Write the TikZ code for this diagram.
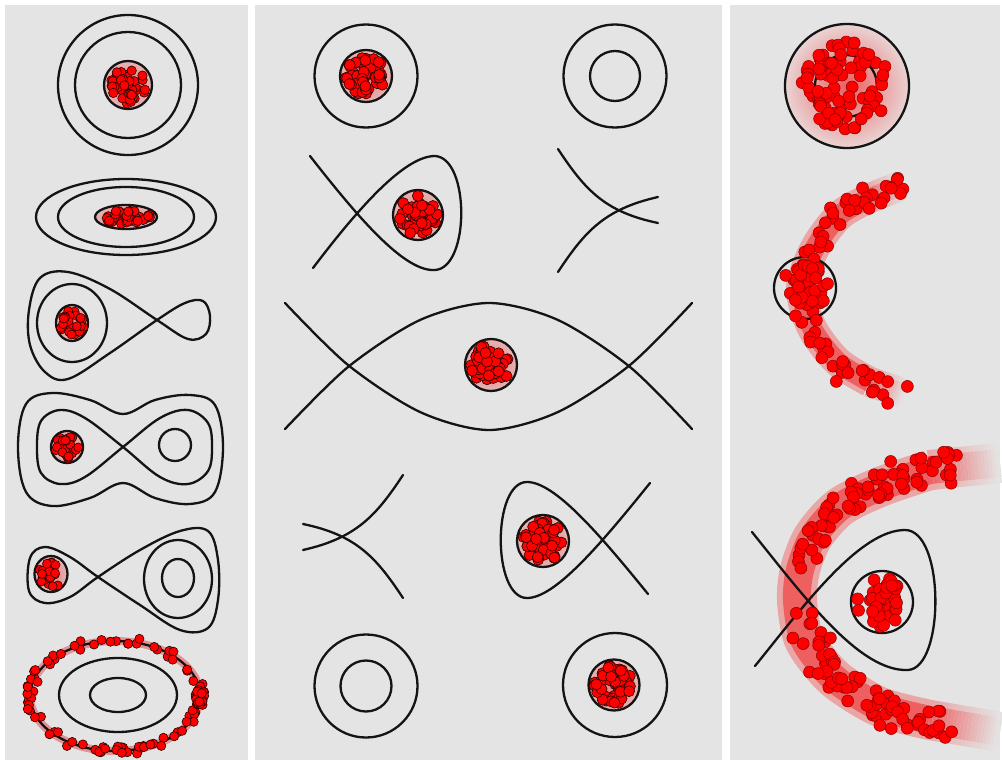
\documentclass[tikz,border=0pt]{standalone}
\definecolor{bg}{RGB}{228,228,228}
\definecolor{blobin}{RGB}{226,125,125}
\definecolor{blobout}{RGB}{232,180,180}
\definecolor{bandc}{RGB}{238,95,95}
\definecolor{bandsoft}{RGB}{234,165,165}
\definecolor{dotred}{RGB}{255,0,0}
\definecolor{ink}{RGB}{20,20,20}
\tikzset{
  curve/.style={draw=ink, line width=2.3pt, line join=round, line cap=round},
  dotst/.style={fill=dotred, draw=black!85!red, line width=0.6pt},
  dotthree/.style={fill=dotred, draw=red!55!black, line width=0.5pt},
  blobdot/.style={dotst},
  blobfill/.style={inner color=blobin, outer color=blobout},
}
% cx cy rx ry n r
\newcommand\dotblob[6]{%
  \foreach \i in {1,...,#5}{%
    \pgfmathsetmacro\myrad{sqrt(rnd)}%
    \pgfmathsetmacro\myang{360*rnd}%
    \path[blobdot] ({#1+#3*\myrad*cos(\myang)},{#2+#4*\myrad*sin(\myang)}) circle (#6);}}
\newcommand\ringdots[6]{%
  \foreach \i in {1,...,#5}{%
    \pgfmathsetmacro\myrad{4.5*rand}%
    \pgfmathsetmacro\myang{360*rnd}%
    \path[blobdot] ({#1+(#3+\myrad)*cos(\myang)},{#2+(#4+\myrad)*sin(\myang)}) circle (#6);}}
% n per point, jitter, list
\newcommand\banddots[3]{%
  \foreach \px/\py in {#3}{%
    \foreach \k in {1,...,#1}{%
      \path[dotthree] ({\px+#2*rand},{\py+#2*rand}) circle (6);}}}
% x1 y1 x2 y2 softwidth corewidth
\newcommand\bandfade[6]{%
  \foreach \k in {0,...,19}{%
    \pgfmathsetmacro\fta{(\k-0.3)/20}%
    \pgfmathsetmacro\ftb{(\k+1)/20}%
    \pgfmathtruncatemacro\fpc{100*(1-(\k+0.5)/20)}%
    \draw[draw=bandsoft!\fpc!bg, line width=#5pt] ({#1+(#3-#1)*\fta},{#2+(#4-#2)*\fta}) -- ({#1+(#3-#1)*\ftb},{#2+(#4-#2)*\ftb});
    \draw[draw=bandc!\fpc!bg, line width=#6pt] ({#1+(#3-#1)*\fta},{#2+(#4-#2)*\fta}) -- ({#1+(#3-#1)*\ftb},{#2+(#4-#2)*\ftb});}}
\begin{document}
\begin{tikzpicture}[x=1pt,y=-1pt]
\useasboundingbox (0,0) rectangle (1002,760);
\fill[white] (0,0) rectangle (1002,760);
\fill[bg] (5,5) rectangle (248,760);
\fill[bg] (255,5) rectangle (722,760);
\fill[bg] (730,5) rectangle (1000,760);

% ================= Panel 1 =================
\pgfmathsetseed{11}
% 1: concentric circles
\draw[curve] (128,85) circle (70);
\draw[curve] (128,85) circle (53);
\shade[blobfill] (128,85) circle (24);
\draw[curve] (128,85) circle (24);
\dotblob{128}{85}{19}{19}{48}{4.7}
% 2: ellipses
\draw[curve] (126,217) ellipse (90 and 38);
\draw[curve] (126,217) ellipse (68 and 30);
\shade[blobfill] (126,217) ellipse (31 and 12);
\draw[curve] (126,217) ellipse (31 and 12);
\dotblob{126}{217}{25}{7}{44}{4.7}
% 3: lobe with small loop
\draw[curve] plot[smooth cycle, tension=0.6] coordinates {(157,320) (110,289) (68,272) (40,278) (29,310) (30,345) (45,372) (68,379) (110,353) (157,320) (185,303) (203,301) (210,316) (206,334) (188,339)};
\draw[curve] (72,323) ellipse (35 and 39);
\shade[blobfill] (72,323) ellipse (16 and 18);
\draw[curve] (72,323) ellipse (16 and 18);
\dotblob{72}{323}{12}{14}{28}{4.5}
% 4: dumbbell
\draw[curve] plot[smooth cycle, tension=0.6] coordinates {(123,414) (155,400) (190,395) (215,405) (223,447) (215,492) (190,504) (155,498) (123,483) (90,498) (52,506) (26,492) (18,447) (26,404) (52,393) (90,400)};
\draw[curve] plot[smooth cycle, tension=0.6] coordinates {(123,447) (160,418) (188,410) (208,423) (212,447) (208,471) (188,484) (160,477) (123,447) (85,418) (60,410) (41,421) (37,447) (41,473) (60,484) (85,477)};
\draw[curve] (175,445) circle (16);
\shade[blobfill] (67,447) circle (16);
\draw[curve] (67,447) circle (16);
\dotblob{67}{447}{12}{12}{28}{4.5}
% 5: asymmetric figure eight
\draw[curve] plot[smooth cycle, tension=0.6] coordinates {(98,577) (140,550) (180,531) (208,531) (218,560) (218,600) (208,628) (180,630) (140,605) (98,577) (70,557) (45,547) (30,558) (29,591) (45,603) (70,597)};
\draw[curve] (178,579) ellipse (34 and 39);
\draw[curve] (178,578) ellipse (16 and 19);
\shade[blobfill] (51,574) ellipse (16.5 and 18);
\draw[curve] (51,574) ellipse (16.5 and 18);
\dotblob{51}{574}{12}{14}{30}{4.5}
% 6: ellipses with ring
\draw[curve] (118,695) ellipse (59 and 37);
\draw[curve] (118,695) ellipse (28 and 17);
\draw[draw=blobin!80!bg, line width=8pt] (115,696) ellipse (85 and 55);
\draw[curve] (115,696) ellipse (85 and 55);
\ringdots{115}{696}{85}{55}{100}{4.6}

% ================= Panel 2 =================
\pgfmathsetseed{23}
% top left
\draw[curve] (366,76) circle (51.5);
\shade[blobfill] (366,76) circle (26);
\draw[curve] (366,76) circle (26);
\dotblob{366}{76}{20.5}{20.5}{52}{5.5}
% top right
\draw[curve] (615,76) circle (51.5);
\draw[curve] (615,76) circle (25);
% fish with loop on the right
\draw[curve] (310,156) .. controls (360,220) and (405,272) .. (435,270) .. controls (470,268) and (470,158) .. (435,156) .. controls (405,156) and (360,206) .. (313,268);
\shade[blobfill] (418,215) circle (25);
\draw[curve] (418,215) circle (25);
\dotblob{418}{215}{19.5}{19.5}{50}{5.5}
% top-right saddle
\draw[curve] (558,149) .. controls (585,190) and (605,212) .. (658,223);
\draw[curve] (558,272) .. controls (585,231) and (605,209) .. (658,197);
% lens
\draw[curve] plot[smooth] coordinates {(285,429) (348,367) (420,320) (489,303) (558,320) (630,367) (692,429)};
\draw[curve] plot[smooth] coordinates {(285,303) (348,365) (420,412) (489,430) (558,412) (630,365) (692,303)};
\shade[blobfill] (491,365) circle (26);
\draw[curve] (491,365) circle (26);
\dotblob{491}{365}{20.5}{20.5}{52}{5.5}
% lower-left saddle
\draw[curve] (403,598) .. controls (376,557) and (356,535) .. (303,524);
\draw[curve] (403,475) .. controls (376,516) and (356,538) .. (303,550);
% fish with loop on the left
\draw[curve] (650,483) .. controls (600,545) and (555,598) .. (527,598) .. controls (492,598) and (492,482) .. (527,482) .. controls (555,482) and (600,535) .. (648,594);
\shade[blobfill] (543,541) circle (26);
\draw[curve] (543,541) circle (26);
\dotblob{543}{541}{20.5}{20.5}{52}{5.5}
% bottom left
\draw[curve] (366,686) circle (51.5);
\draw[curve] (366,686) circle (25.5);
% bottom right
\draw[curve] (615,685) circle (52);
\shade[blobfill] (614,685) circle (25.5);
\draw[curve] (614,685) circle (25.5);
\dotblob{614}{685}{20}{20}{52}{5.5}

% ================= Panel 3 =================
\begin{scope}[blobdot/.style={dotthree}]
\pgfmathsetseed{47}
% top
\shade[inner color={rgb,255:red,236;green,95;blue,95}, outer color={rgb,255:red,234;green,212;blue,212}] (847,86) circle (62);
\draw[curve] (847,86) circle (62);
\draw[curve] (846,86) circle (31);
\dotblob{846}{86}{44}{44}{85}{6}
% middle band
\draw[draw=bandsoft, line width=30pt] plot[smooth] coordinates {(870,198) (840,215) (815,248) (801,288) (812,328) (838,362) (870,382)};
\draw[draw=bandc, line width=20pt] plot[smooth] coordinates {(870,198) (840,215) (815,248) (801,288) (812,328) (838,362) (870,382)};
\bandfade{870}{198}{905}{184}{30}{20}
\bandfade{870}{382}{905}{394}{30}{20}
\draw[curve] (805,288) circle (31);
\banddots{3}{12}{903/186, 892/190, 880/194, 870/198, 860/203, 850/209, 840/215, 831/225, 823/236, 815/248, 809/261, 804/274, 801/288, 803/301, 807/315, 812/328, 819/340, 828/351, 838/362, 848/370, 859/377, 870/382, 884/388, 897/392}
\dotblob{805}{288}{24}{24}{30}{6}
% bottom band
\draw[draw=bandsoft, line width=40pt] plot[smooth] coordinates {(930,470) (880,487) (840,507) (813,537) (800,570) (797,600) (803,637) (820,663) (840,683) (880,707) (930,720)};
\draw[draw=bandc, line width=28pt] plot[smooth] coordinates {(930,470) (880,487) (840,507) (813,537) (800,570) (797,600) (803,637) (820,663) (840,683) (880,707) (930,720)};
\bandfade{930}{470}{1000}{463}{40}{28}
\bandfade{930}{720}{1000}{732}{40}{28}
\draw[curve] (752,532) .. controls (805,598) and (860,672) .. (908,670) .. controls (945,668) and (945,530) .. (905,530) .. controls (860,530) and (805,604) .. (755,666);
\draw[curve] (882,602) circle (31);
\dotblob{882}{602}{25}{25}{50}{6}
\banddots{5}{16}{952/466, 940/468, 928/470, 916/473, 904/477, 892/482, 880/487, 868/492, 856/498, 844/505, 834/513, 825/522, 818/532, 812/543, 808/555}
\banddots{5}{16}{805/625, 810/638, 816/651, 824/663, 833/673, 844/684, 856/693, 868/700, 880/707, 893/711, 906/715, 918/718, 930/720, 942/726}
\end{scope}
\end{tikzpicture}
\end{document}
